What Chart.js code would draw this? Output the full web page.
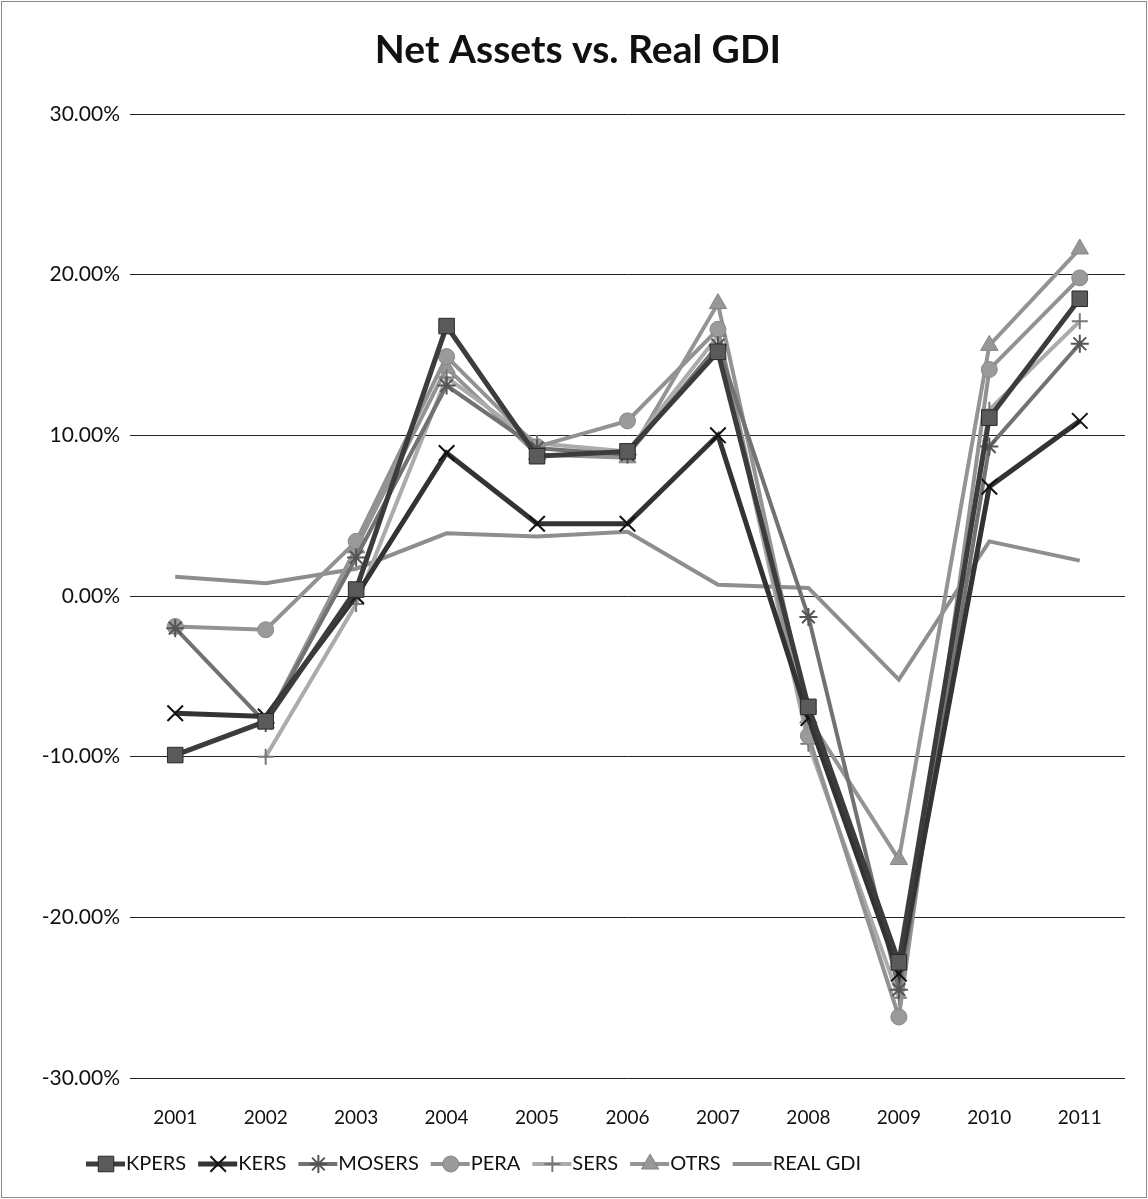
<!DOCTYPE html>
<html>
<head>
<meta charset="utf-8">
<script src="https://cdn.jsdelivr.net/npm/chart.js@4/dist/chart.umd.min.js"></script>
<style>
  html, body { margin: 0; padding: 0; background: #fff; }
  #caja { width: 1148px; height: 1199px; position: relative; }
</style>
</head>
<body>
<div id="caja"><canvas id="grafico"></canvas></div>
<script>
// Datos (porcentajes)
const anios = ["2001","2002","2003","2004","2005","2006","2007","2008","2009","2010","2011"];
const kpers  = [-9.9, -7.8, 0.4, 16.8, 8.7, 9.0, 15.2, -6.9, -22.8, 11.1, 18.5];
const kers   = [-7.3, -7.5, 0.0, 8.9, 4.5, 4.5, 10.0, -7.6, -23.5, 6.8, 10.9];
const mosers = [-2.0, -7.9, 2.4, 13.1, 9.2, 8.8, 15.6, -1.3, -24.5, 9.3, 15.7];
const pera   = [-1.9, -2.1, 3.4, 14.9, 9.3, 10.9, 16.6, -8.7, -26.2, 14.1, 19.8];
const sers   = [null, -10.0, -0.5, 13.6, 9.5, 9.0, 16.2, -9.2, -25.0, 11.6, 17.1];
const otrs   = [null, -7.9, 3.0, 14.2, 8.8, 8.6, 18.2, -7.6, -16.4, 15.6, 21.6];
const realGdi = [1.2, 0.8, 1.7, 3.9, 3.7, 4.0, 0.7, 0.5, -5.2, 3.4, 2.2];

const ticksY = { min: -30, max: 30, paso: 10 };

const fuente = "Lato, 'Open Sans', sans-serif";

//Funcion que arma un dataset con su estilo
function serie(nombre, datos, linea, relleno, borde, forma, radio, grosor) {
  return {
    label: nombre,
    data: datos,
    borderColor: linea,
    backgroundColor: relleno,
    pointBackgroundColor: relleno,
    pointBorderColor: borde,
    pointBorderWidth: forma === 'crossRot' || forma === 'cross' || forma === 'star' ? 2 : 1,
    pointStyle: forma,
    pointRadius: radio,
    borderWidth: grosor,
    tension: 0,
    spanGaps: false
  };
}

const datasets = [
  serie("KPERS", kpers, "#3c3c3c", "#5a5a5a", "#2a2a2a", "rect", 11, 5),
  serie("KERS", kers, "#333333", "#222222", "#111111", "crossRot", 11, 5),
  serie("MOSERS", mosers, "#727272", "#6a6a6a", "#555555", "star", 9, 4),
  serie("PERA", pera, "#929292", "#9a9a9a", "#888888", "circle", 8, 4),
  serie("SERS", sers, "#ababab", "#999999", "#777777", "cross", 8, 4),
  serie("OTRS", otrs, "#949494", "#979797", "#858585", "triangle", 10, 4),
  serie("REAL GDI", realGdi, "#8e8e8e", "#8e8e8e", "#8e8e8e", "circle", 0, 4)
];

//Plugin que dibuja titulo, leyenda y el marco
const adornos = {
  id: 'adornos',
  afterDraw(chart) {
    const ctx = chart.ctx;
    ctx.save();
    // marco
    ctx.strokeStyle = "#8a8a8a";
    ctx.lineWidth = 1;
    ctx.strokeRect(1.5, 1.5, chart.width - 3, chart.height - 3);
    // titulo
    ctx.fillStyle = "#111";
    ctx.font = "bold 39px " + fuente;
    ctx.textAlign = "center";
    ctx.textBaseline = "middle";
    ctx.fillText("Net Assets vs. Real GDI", 578, 50);
    // leyenda
    ctx.font = "20px " + fuente;
    ctx.textAlign = "left";
    let x = 86;
    const y = 1164;
    chart.data.datasets.forEach(ds => {
      ctx.strokeStyle = ds.borderColor;
      ctx.lineWidth = ds.borderWidth;
      ctx.beginPath();
      ctx.moveTo(x, y);
      ctx.lineTo(x + 39, y);
      ctx.stroke();
      if (ds.pointRadius > 0) {
        ctx.fillStyle = ds.pointBackgroundColor;
        ctx.strokeStyle = ds.pointBorderColor;
        ctx.lineWidth = ds.pointBorderWidth;
        Chart.helpers.drawPoint(ctx, { pointStyle: ds.pointStyle, radius: ds.pointRadius, borderWidth: ds.pointBorderWidth }, x + 20, y);
      }
      ctx.fillStyle = "#111";
      ctx.fillText(ds.label, x + 40, y);
      x += 40 + ctx.measureText(ds.label).width + 12;
    });
    ctx.restore();
  }
};

new Chart(document.getElementById("grafico"), {
  type: 'line',
  data: { labels: anios, datasets: datasets },
  options: {
    responsive: true,
    maintainAspectRatio: false,
    animation: false,
    layout: { padding: { top: 114, right: 23, bottom: 0, left: 0 } },
    plugins: {
      legend: { display: false },
      title: { display: false },
      tooltip: { enabled: false }
    },
    scales: {
      x: {
        offset: true,
        grid: { display: false },
        border: { display: false },
        ticks: { color: "#111", font: { family: fuente, size: 19 }, padding: 20 },
        afterFit(s) { s.height = 121; }
      },
      y: {
        min: ticksY.min,
        max: ticksY.max,
        grid: { color: "#222", lineWidth: 1, drawTicks: false },
        border: { display: false },
        ticks: {
          stepSize: ticksY.paso,
          color: "#111",
          font: { family: fuente, size: 21 },
          padding: 10,
          callback: v => v.toFixed(2) + "%"
        },
        afterFit(s) { s.width = 130; }
      }
    }
  },
  plugins: [adornos]
});
</script>
</body>
</html>
